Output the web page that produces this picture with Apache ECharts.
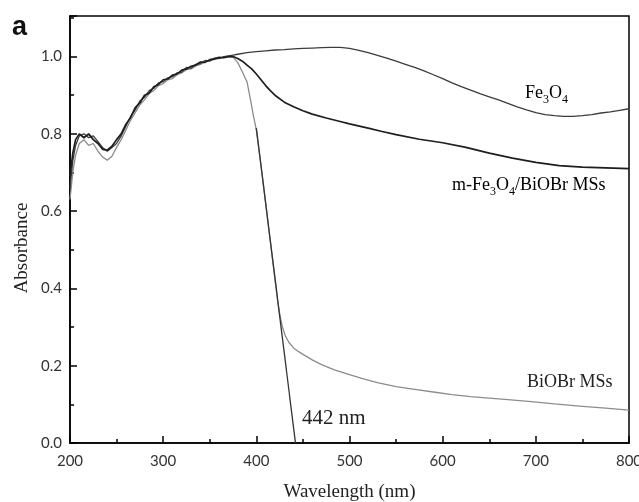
<!DOCTYPE html>
<html>
<head>
<meta charset="utf-8">
<script src="https://cdn.jsdelivr.net/npm/echarts@6/dist/echarts.min.js"></script>
<style>
  html, body { margin: 0; padding: 0; background: #fff; }
  #chart { width: 639px; height: 502px; }
</style>
</head>
<body>
<div id="chart"></div>
<script>
// UV-vis absorbance spectra (wavelength in nm)
const fe3o4X = [200,203,206,210,215,220,225,230,235,240,245,250,255,260,265,270,275,280,285,290,295,300,305,310,315,320,325,330,335,340,345,350,355,360,365,370,
  375,380,390,400,410,420,430,440,450,460,470,480,490,500,510,520,530,540,550,560,570,580,590,600,610,620,630,640,650,660,670,680,690,700,710,720,730,740,750,760,770,780,790,800];
const fe3o4Y = [0.66,0.73,0.77,0.795,0.80,0.79,0.795,0.78,0.765,0.755,0.765,0.775,0.795,0.82,0.845,0.862,0.885,0.895,0.912,0.918,0.932,0.935,0.945,0.948,0.958,0.96,0.972,0.97,0.98,0.982,0.99,0.988,0.996,0.995,1.0,1.002,
  1.004,1.006,1.01,1.013,1.015,1.017,1.018,1.02,1.021,1.022,1.023,1.024,1.024,1.021,1.016,1.01,1.003,0.996,0.988,0.98,0.972,0.963,0.953,0.943,0.932,0.922,0.913,0.904,0.896,0.888,0.879,0.87,0.862,0.855,0.85,0.847,0.845,0.845,0.847,0.85,0.854,0.857,0.861,0.865];

const compositeX = [200,203,206,210,215,220,225,230,235,240,245,250,255,260,265,270,275,280,285,290,295,300,305,310,315,320,325,330,335,340,345,350,355,360,365,370,
  375,380,385,390,395,400,405,410,415,420,430,440,450,460,475,490,500,520,535,550,575,600,625,650,675,700,725,750,775,800];
const compositeY = [0.69,0.75,0.785,0.80,0.79,0.80,0.785,0.775,0.76,0.758,0.768,0.785,0.8,0.825,0.842,0.868,0.88,0.9,0.905,0.922,0.928,0.94,0.942,0.952,0.955,0.965,0.968,0.975,0.978,0.986,0.985,0.992,0.994,0.998,0.997,1.0,
  1.0,0.995,0.988,0.978,0.968,0.955,0.94,0.925,0.912,0.9,0.882,0.87,0.86,0.851,0.841,0.832,0.826,0.815,0.806,0.798,0.786,0.777,0.765,0.75,0.737,0.726,0.718,0.714,0.712,0.71];

const biobrX = [200,203,206,210,215,220,225,230,235,240,245,250,255,260,265,270,275,280,285,290,295,300,305,310,315,320,325,330,335,340,345,350,355,360,365,370,
  375,380,385,390,394,397,400,403,407,411,415,418,421,423,425,428,431,435,440,445,451,460,470,483,500,515,530,550,570,590,610,630,650,670,695,720,750,775,800];
const biobrY = [0.63,0.7,0.745,0.775,0.785,0.77,0.775,0.755,0.74,0.732,0.742,0.765,0.785,0.81,0.835,0.855,0.875,0.888,0.905,0.912,0.925,0.93,0.94,0.943,0.953,0.958,0.966,0.968,0.976,0.98,0.986,0.99,0.992,0.996,0.998,1.0,
  0.998,0.985,0.96,0.935,0.885,0.845,0.81,0.757,0.68,0.6,0.522,0.463,0.405,0.365,0.335,0.3,0.278,0.26,0.246,0.237,0.228,0.215,0.203,0.19,0.177,0.166,0.156,0.146,0.139,0.132,0.125,0.12,0.116,0.112,0.107,0.101,0.095,0.09,0.085];

// band-edge tangent meeting the baseline at 442 nm
const tangentX = [400, 442];
const tangentY = [0.815, 0];

const xTicks = [200, 800, 100];   // min, max, interval
const yTicks = [0, 1.105, 0.2];

const pairs = (xs, ys) => xs.map((x, i) => [x, ys[i]]);

const serif = '"Liberation Serif", "DejaVu Serif", serif';
const tickFont = 'Lato, "Open Sans", sans-serif';

const chart = echarts.init(document.getElementById('chart'), null, { renderer: 'canvas' });

const richLabel = {
  n: { fontFamily: serif, fontSize: 18, color: '#222', lineHeight: 26, verticalAlign: 'middle' },
  s: { fontFamily: serif, fontSize: 12, color: '#222', lineHeight: 26, verticalAlign: 'bottom' }
};

function lineSeries(name, data, color, width, z) {
  return {
    name, type: 'line', data, showSymbol: false, symbol: 'none', smooth: false,
    lineStyle: { color, width }, z, silent: true
  };
}

chart.setOption({
  animation: false,
  backgroundColor: '#fff',
  grid: { left: 70, right: 10, top: 16, bottom: 59, outerBoundsMode: 'none', containLabel: false,
    show: true, borderColor: '#000', borderWidth: 1.5, backgroundColor: 'transparent' },
  xAxis: {
    type: 'value', min: xTicks[0], max: xTicks[1], interval: xTicks[2],
    name: 'Wavelength (nm)', nameLocation: 'middle', nameGap: 40,
    nameTextStyle: { fontFamily: serif, fontSize: 19, color: '#222' },
    axisLine: { show: true, lineStyle: { color: '#000', width: 1.6 } },
    axisTick: { show: true, inside: true, length: 7, lineStyle: { color: '#000', width: 1.5 } },
    minorTick: { show: true, splitNumber: 2, length: 4, lineStyle: { color: '#000', width: 1.5 } },
    splitLine: { show: false },
    axisLabel: { fontFamily: tickFont, fontSize: 15, color: '#333', margin: 11 }
  },
  yAxis: {
    type: 'value', min: yTicks[0], max: yTicks[1], interval: yTicks[2],
    axisLine: { show: true, lineStyle: { color: '#000', width: 1.6 } },
    axisTick: { show: true, inside: true, length: 7, lineStyle: { color: '#000', width: 1.5 } },
    minorTick: { show: true, splitNumber: 2, length: 4, lineStyle: { color: '#000', width: 1.5 } },
    splitLine: { show: false },
    axisLabel: { fontFamily: tickFont, fontSize: 15, color: '#333', margin: 8, showMaxLabel: false,
      formatter: v => v.toFixed(1) }
  },
  series: [
    lineSeries('BiOBr MSs', pairs(biobrX, biobrY), '#8c8c8c', 1.3, 2),
    lineSeries('Fe3O4', pairs(fe3o4X, fe3o4Y), '#3c3c3c', 1.3, 3),
    lineSeries('m-Fe3O4/BiOBr MSs', pairs(compositeX, compositeY), '#1e1e1e', 1.7, 4),
    lineSeries('tangent', pairs(tangentX, tangentY), '#333', 1.3, 5)
  ],
  graphic: [
    { type: 'text', left: 12, top: 14, style: { text: 'a', fontFamily: '"Liberation Sans", Arial, sans-serif', fontWeight: 'bold', fontSize: 27, fill: '#111' } },
    { type: 'text', x: 22, y: 248, rotation: Math.PI / 2,
      style: { text: 'Absorbance', fontFamily: serif, fontSize: 19, fill: '#222', align: 'center', verticalAlign: 'middle' } },
    { type: 'text', x: 525, y: 93, style: { text: '{n|Fe}{s|3}{n|O}{s|4}', rich: richLabel, verticalAlign: 'middle' } },
    { type: 'text', x: 452, y: 185, style: { text: '{n|m-Fe}{s|3}{n|O}{s|4}{n|/BiOBr MSs}', rich: richLabel, verticalAlign: 'middle' } },
    { type: 'text', x: 527, y: 382, style: { text: 'BiOBr MSs', fontFamily: serif, fontSize: 18, fill: '#222', verticalAlign: 'middle' } },
    { type: 'text', x: 302, y: 418, style: { text: '442 nm', fontFamily: serif, fontSize: 21, fill: '#222', verticalAlign: 'middle' } }
  ]
});
</script>
</body>
</html>
